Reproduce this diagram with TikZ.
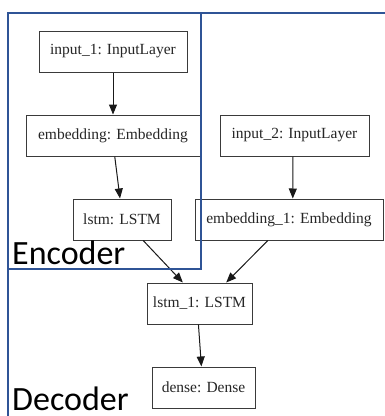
\documentclass[tikz,border=0pt]{standalone}
\usepackage{fontspec}
\setmainfont{Liberation Serif}
\newfontfamily\labelfont{Carlito}
\usetikzlibrary{arrows.meta,calc}
\definecolor{frameblue}{HTML}{2F5496}
\definecolor{boxline}{HTML}{3A3A3A}
\tikzset{
  layer/.style={draw=boxline, line width=1pt, rectangle, minimum height=41pt, inner sep=0pt, font=\fontsize{15.5}{18}\selectfont, text=black!85},
  conn/.style={draw=black!90, line width=1pt, -{Triangle[length=10pt,width=8pt]}},
  frame/.style={draw=frameblue, line width=2.2pt},
  grouplabel/.style={anchor=base west, inner sep=0pt, font=\labelfont\fontsize{34}{40}\selectfont, text=black}
}
\begin{document}
\begin{tikzpicture}[x=1pt,y=-1pt]
\useasboundingbox (0,0) rectangle (384,416);
\fill[white] (0,0) rectangle (384,416);
% nodes
\node[layer, minimum width=148pt] (in1) at (113,51.5) {input\_1: InputLayer};
\node[layer, minimum width=174pt] (emb) at (113,135.5) {embedding: Embedding};
\node[layer, minimum width=149pt] (in2) at (294.5,135.5) {input\_2: InputLayer};
\node[layer, minimum width=98pt] (lstm) at (122,219.5) {lstm: LSTM};
\node[layer, minimum width=188pt] (emb1) at (289,219.5) {embedding\_1: Embedding};
\node[layer, minimum width=105pt] (lstm1) at (199.5,303.5) {lstm\_1: LSTM};
\node[layer, minimum width=103pt] (dense) at (203.5,387.5) {dense: Dense};
% connectors
\draw[conn] (in1.south) -- (emb.north);
\draw[conn] ($(emb.south west)!0.51!(emb.south east)$) -- ($(lstm.north west)!0.48!(lstm.north east)$);
\draw[conn] ($(in2.south west)!0.49!(in2.south east)$) -- ($(emb1.north west)!0.52!(emb1.north east)$);
\draw[conn] ($(lstm.south west)!0.714!(lstm.south east)$) -- ($(lstm1.north west)!0.343!(lstm1.north east)$);
\draw[conn] ($(emb1.south west)!0.388!(emb1.south east)$) -- ($(lstm1.north west)!0.752!(lstm1.north east)$);
\draw[conn] ($(lstm1.south west)!0.49!(lstm1.south east)$) -- ($(dense.north west)!0.48!(dense.north east)$);
% group frames
\coordinate (decBL) at (8,420);
\coordinate (decTL) at (8,13);
\coordinate (decTR) at (390,13);
\draw[frame] (decBL) -- (decTL) -- (decTR);
\draw[frame] (8,13) rectangle (201,269);
\node[grouplabel] (enc) at (12,264) {Encoder};
\node[grouplabel] (dec) at (12,410) {Decoder};
\end{tikzpicture}
\end{document}
